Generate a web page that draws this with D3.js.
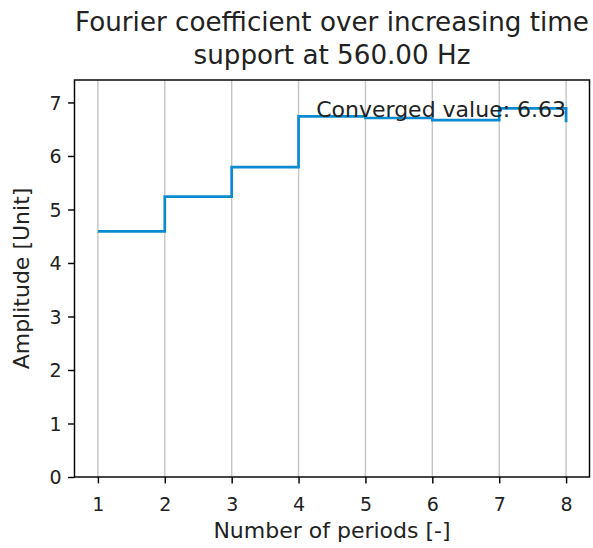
<!DOCTYPE html>
<html>
<head>
<meta charset="utf-8">
<script src="https://cdn.jsdelivr.net/npm/d3@7"></script>
<style>
  html, body { margin: 0; padding: 0; background: #fff; }
  svg { display: block; font-family: "DejaVu Sans", sans-serif; }
</style>
</head>
<body>
<svg id="chart" width="593" height="548"></svg>
<script>
// Number of periods used for each estimate
const periods = [1, 2, 3, 4, 5, 6, 7, 8];
// Fourier coefficient amplitude for each time support
const amplitudes = [4.59, 5.24, 5.79, 6.74, 6.71, 6.67, 6.89, 6.63];
const xTicks = [1, 2, 3, 4, 5, 6, 7, 8];
const yTicks = [0, 1, 2, 3, 4, 5, 6, 7];
const xDomain = [0.65, 8.35];
const yDomain = [0, 7.42];
const titleLines = ["Fourier coefficient over increasing time", "support at 560.00 Hz"];
const convergedLabel = "Converged value: " + amplitudes[amplitudes.length - 1].toFixed(2);

const W = 593, H = 548;
const margin = { top: 80, right: 3.5, bottom: 71, left: 74.5 };
const iw = W - margin.left - margin.right;
const ih = H - margin.top - margin.bottom;

const svg = d3.select("#chart");
const g = svg.append("g").attr("transform", `translate(${margin.left},${margin.top})`);

const x = d3.scaleLinear().domain(xDomain).range([0, iw]);
const y = d3.scaleLinear().domain(yDomain).range([ih, 0]);

// vertical grid lines
g.append("g").selectAll("line").data(xTicks).join("line")
  .attr("x1", d => x(d)).attr("x2", d => x(d))
  .attr("y1", 0).attr("y2", ih)
  .attr("stroke", "#b0b0b0").attr("stroke-opacity", 0.75).attr("stroke-width", 1.4);

// step line (value held until the next period)
const line = d3.line()
  .x((d, i) => x(periods[i]))
  .y(d => y(d))
  .curve(d3.curveStepAfter);
g.append("path").datum(amplitudes)
  .attr("d", line)
  .attr("fill", "none")
  .attr("stroke", "#0a8ad0")
  .attr("stroke-width", 2.7)
  .attr("stroke-linejoin", "miter");

// axes
const xAxis = d3.axisBottom(x).tickValues(xTicks).tickFormat(d3.format("d"))
  .tickSize(6.4).tickPadding(6.4);
const yAxis = d3.axisLeft(y).tickValues(yTicks).tickFormat(d3.format("d"))
  .tickSize(6.4).tickPadding(6.4);

const gx = g.append("g").attr("transform", `translate(0,${ih})`).call(xAxis);
const gy = g.append("g").call(yAxis);
[gx, gy].forEach(a => {
  a.select(".domain").remove();
  a.selectAll(".tick line").attr("stroke", "#000").attr("stroke-width", 1.45);
  a.selectAll(".tick text").attr("fill", "#222").attr("font-size", 19)
    .attr("font-family", "DejaVu Sans, sans-serif");
});
gx.selectAll(".tick text").attr("dy", null).attr("y", 33.5);
gy.selectAll(".tick text").attr("dy", "0.36em");

// frame
g.append("rect").attr("x", 0).attr("y", 0).attr("width", iw).attr("height", ih)
  .attr("fill", "none").attr("stroke", "#000").attr("stroke-width", 1.45);

// converged value annotation
g.append("text")
  .attr("x", x(periods[periods.length - 1]))
  .attr("y", y(amplitudes[amplitudes.length - 1]) - 5.2)
  .attr("text-anchor", "end")
  .attr("font-size", 22).attr("fill", "#222")
  .text(convergedLabel);

// axis labels
svg.append("text")
  .attr("x", margin.left + iw / 2).attr("y", 538)
  .attr("text-anchor", "middle").attr("font-size", 22).attr("fill", "#222")
  .text("Number of periods [-]");
svg.append("text")
  .attr("transform", `translate(29,${margin.top + ih / 2}) rotate(-90)`)
  .attr("text-anchor", "middle").attr("font-size", 22).attr("fill", "#222")
  .text("Amplitude [Unit]");

// title
svg.append("g").selectAll("text").data(titleLines).join("text")
  .attr("x", margin.left + iw / 2)
  .attr("y", (d, i) => 30.7 + i * 33.6)
  .attr("text-anchor", "middle").attr("font-size", 26.2).attr("fill", "#222")
  .text(d => d);
</script>
</body>
</html>
